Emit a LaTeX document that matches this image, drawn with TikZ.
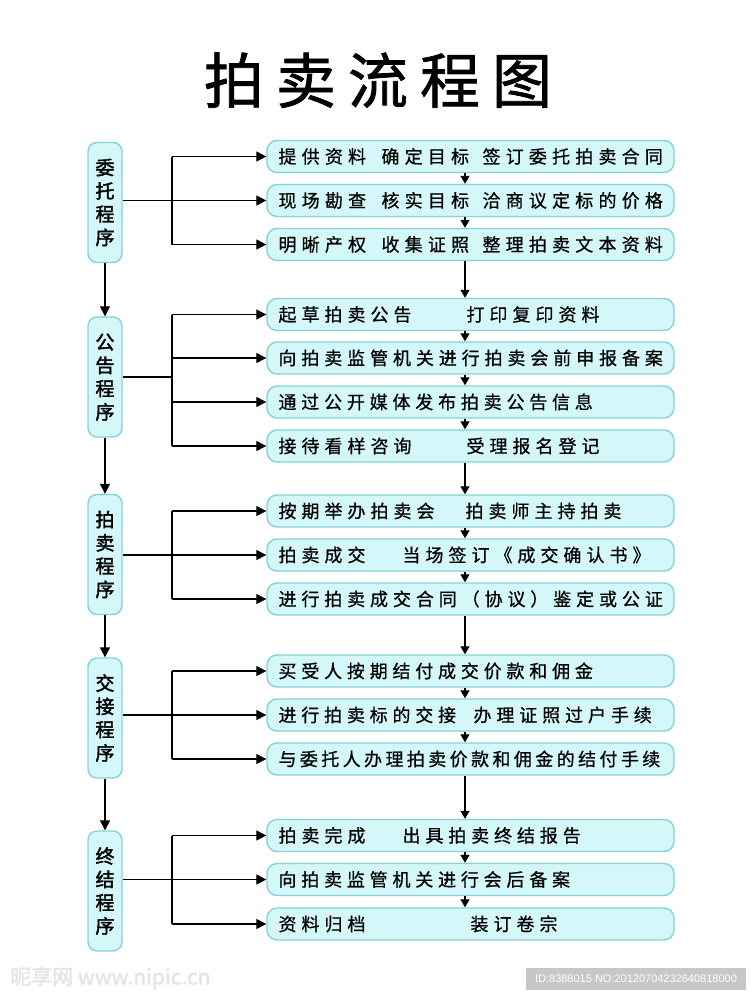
\documentclass[tikz,border=0pt]{standalone}
\usepackage{fontspec}
\newfontfamily\cjk[FakeBold=0.6]{Noto Sans CJK SC}
\newfontfamily\cjkb[FakeBold=2]{Noto Sans CJK SC}
\newfontfamily\cjkt[FakeBold=1.2]{Noto Sans CJK SC}
\newfontfamily\wmfont{Liberation Sans}
\usetikzlibrary{arrows.meta,calc}
\makeatletter
\newcommand\spc[2]{\def\sp@g{#1}\@tfor\sp@c:=#2\do{\sp@c\hspace{\sp@g}}\unskip}
\makeatother
\definecolor{boxfill}{HTML}{D4F7F9}
\definecolor{boxline}{HTML}{86D3D6}
\tikzset{
 rbox/.style={draw=boxline, fill=boxfill, line width=1.4pt, rounded corners=10pt, minimum width=407pt, minimum height=32pt, inner sep=0pt},
 lbox/.style={draw=boxline, fill=boxfill, line width=1.4pt, rounded corners=9pt, minimum width=34pt, minimum height=120pt, inner sep=0pt},
 conn/.style={line width=1.3pt, draw=black},
 arr/.style={conn, -{Triangle[length=10pt,width=10pt]}},
 sarr/.style={conn, -{Triangle[length=8pt,width=9pt]}},
 txt/.style={anchor=base west, inner sep=0pt, font=\cjk\fontsize{18}{18}\selectfont},
 ltxt/.style={inner sep=0pt, font=\cjkb\fontsize{19}{19}\selectfont},
}
\begin{document}
\begin{tikzpicture}[x=1pt,y=-1pt]
\useasboundingbox (0,0) rectangle (755,993);
\fill[white] (0,0) rectangle (755,993);
% title
\node[anchor=base, inner sep=0pt, font=\cjkt\fontsize{60}{60}\selectfont] (title) at (378,103) {\spc{12pt}{拍卖流程图}};
\coordinate (col) at (465,0);
\coordinate (brk) at (172,0);
% left boxes
\node[lbox] (L1) at (105,202.5) {};
\node[lbox] (L2) at (105,377) {};
\node[lbox] (L3) at (105,554.5) {};
\node[lbox] (L4) at (105,718) {};
\node[lbox] (L5) at (105,891) {};
\foreach \b/\s in {L1/{委,托,程,序},L2/{公,告,程,序},L3/{拍,卖,程,序},L4/{交,接,程,序},L5/{终,结,程,序}}{
  \foreach \c [count=\i] in \s {
    \node[ltxt] (\b c\i) at ($(\b)+(0,{(\i-2.5)*23.3})$) {\c};
  }
}
% right boxes
\node[rbox] (A1) at (470.5,156.5) {};
\node[rbox] (A2) at (470.5,200.5) {};
\node[rbox] (A3) at (470.5,244.5) {};
\node[rbox] (B1) at (470.5,314.5) {};
\node[rbox] (B2) at (470.5,358) {};
\node[rbox] (B3) at (470.5,402) {};
\node[rbox] (B4) at (470.5,446) {};
\node[rbox] (C1) at (470.5,511) {};
\node[rbox] (C2) at (470.5,555) {};
\node[rbox] (C3) at (470.5,599) {};
\node[rbox] (D1) at (470.5,671) {};
\node[rbox] (D2) at (470.5,715) {};
\node[rbox] (D3) at (470.5,759) {};
\node[rbox] (E1) at (470.5,835.5) {};
\node[rbox] (E2) at (470.5,879.5) {};
\node[rbox] (E3) at (470.5,924) {};
% texts
\node[txt] (A1a) at ($(A1.west)+(12,6.8)$) {\spc{5.2pt}{提供资料}};
\node[txt] (A1b) at ($(A1.west)+(115,6.8)$) {\spc{5.2pt}{确定目标}};
\node[txt] (A1c) at ($(A1.west)+(216,6.8)$) {\spc{5.2pt}{签订委托拍卖合同}};
\node[txt] (A2a) at ($(A2.west)+(12,6.8)$) {\spc{5.2pt}{现场勘查}};
\node[txt] (A2b) at ($(A2.west)+(115,6.8)$) {\spc{5.2pt}{核实目标}};
\node[txt] (A2c) at ($(A2.west)+(216,6.8)$) {\spc{5.2pt}{洽商议定标的价格}};
\node[txt] (A3a) at ($(A3.west)+(12,6.8)$) {\spc{5.2pt}{明晰产权}};
\node[txt] (A3b) at ($(A3.west)+(115,6.8)$) {\spc{5.2pt}{收集证照}};
\node[txt] (A3c) at ($(A3.west)+(216,6.8)$) {\spc{5.2pt}{整理拍卖文本资料}};
\node[txt] (B1a) at ($(B1.west)+(12,6.8)$) {\spc{5pt}{起草拍卖公告}};
\node[txt] (B1b) at ($(B1.west)+(200,6.8)$) {\spc{5pt}{打印复印资料}};
\node[txt] (B2a) at ($(B2.west)+(12,6.8)$) {\spc{4.9pt}{向拍卖监管机关进行拍卖会前申报备案}};
\node[txt] (B3a) at ($(B3.west)+(12,6.8)$) {\spc{4.8pt}{通过公开媒体发布拍卖公告信息}};
\node[txt] (B4a) at ($(B4.west)+(12,6.8)$) {\spc{5pt}{接待看样咨询}};
\node[txt] (B4b) at ($(B4.west)+(200,6.8)$) {\spc{5pt}{受理报名登记}};
\node[txt] (C1a) at ($(C1.west)+(12,6.8)$) {\spc{5pt}{按期举办拍卖会}};
\node[txt] (C1b) at ($(C1.west)+(199,6.8)$) {\spc{5pt}{拍卖师主持拍卖}};
\node[txt] (C2a) at ($(C2.west)+(12,6.8)$) {\spc{5pt}{拍卖成交}};
\node[txt] (C2b) at ($(C2.west)+(136,6.8)$) {\spc{5pt}{当场签订《成交确认书》}};
\node[txt] (C3a) at ($(C3.west)+(12,6.8)$) {\spc{4.9pt}{进行拍卖成交合同（协议）鉴定或公证}};
\node[txt] (D1a) at ($(D1.west)+(12,6.8)$) {\spc{4.8pt}{买受人按期结付成交价款和佣金}};
\node[txt] (D2a) at ($(D2.west)+(12,6.8)$) {\spc{4.8pt}{进行拍卖标的交接}};
\node[txt] (D2b) at ($(D2.west)+(207,6.8)$) {\spc{4.9pt}{办理证照过户手续}};
\node[txt] (D3a) at ($(D3.west)+(12,6.8)$) {\spc{3.4pt}{与委托人办理拍卖价款和佣金的结付手续}};
\node[txt] (E1a) at ($(E1.west)+(12,6.8)$) {\spc{5pt}{拍卖完成}};
\node[txt] (E1b) at ($(E1.west)+(136,6.8)$) {\spc{4.9pt}{出具拍卖终结报告}};
\node[txt] (E2a) at ($(E2.west)+(12,6.8)$) {\spc{4.8pt}{向拍卖监管机关进行会后备案}};
\node[txt] (E3a) at ($(E3.west)+(12,6.8)$) {\spc{5pt}{资料归档}};
\node[txt] (E3b) at ($(E3.west)+(204,6.8)$) {\spc{5pt}{装订卷宗}};
% left vertical arrows
\draw[arr] (L1.south) -- (L2.north);
\draw[arr] (L2.south) -- (L3.north);
\draw[arr] (L3.south) -- (L4.north);
\draw[arr] (L4.south) -- (L5.north);
% brackets: groups with 3 boxes
\foreach \L/\a/\b/\c in {L1/A1/A2/A3, L3/C1/C2/C3, L4/D1/D2/D3, L5/E1/E2/E3}{
  \draw[conn] (brk |- \a.west) -- (brk |- \c.west);
  \draw[arr] (brk |- \a.west) -- (\a.west);
  \draw[arr] (brk |- \c.west) -- (\c.west);
  \draw[arr] (\L.east |- \b.west) -- (\b.west);
}
% group 2 (4 boxes)
\draw[conn] (brk |- B1.west) -- (brk |- B4.west);
\foreach \a in {B1,B2,B3,B4}{ \draw[arr] (brk |- \a.west) -- (\a.west); }
\draw[conn] (L2.east) -- (brk |- L2.east);
% small down arrows in the column
\foreach \u/\v in {A1/A2,A2/A3,A3/B1,B1/B2,B2/B3,B3/B4,B4/C1,C1/C2,C2/C3,C3/D1,D1/D2,D2/D3,D3/E1,E1/E2,E2/E3}{
  \draw[sarr] (\u.south -| col) -- (\v.north -| col);
}
% watermark marks
\node[fill=black!22, text=white, font=\wmfont\fontsize{11}{11}\selectfont, minimum width=220pt, minimum height=22pt, inner sep=0pt] (wm) at (636,979) {ID:8388015 NO:20120704232640818000};
\node[text=black!10, font=\cjkb\fontsize{21}{21}\selectfont, inner sep=0pt, anchor=west] (logo) at (10,978) {昵享网 \itshape www.nipic.cn};
\end{tikzpicture}
\end{document}
